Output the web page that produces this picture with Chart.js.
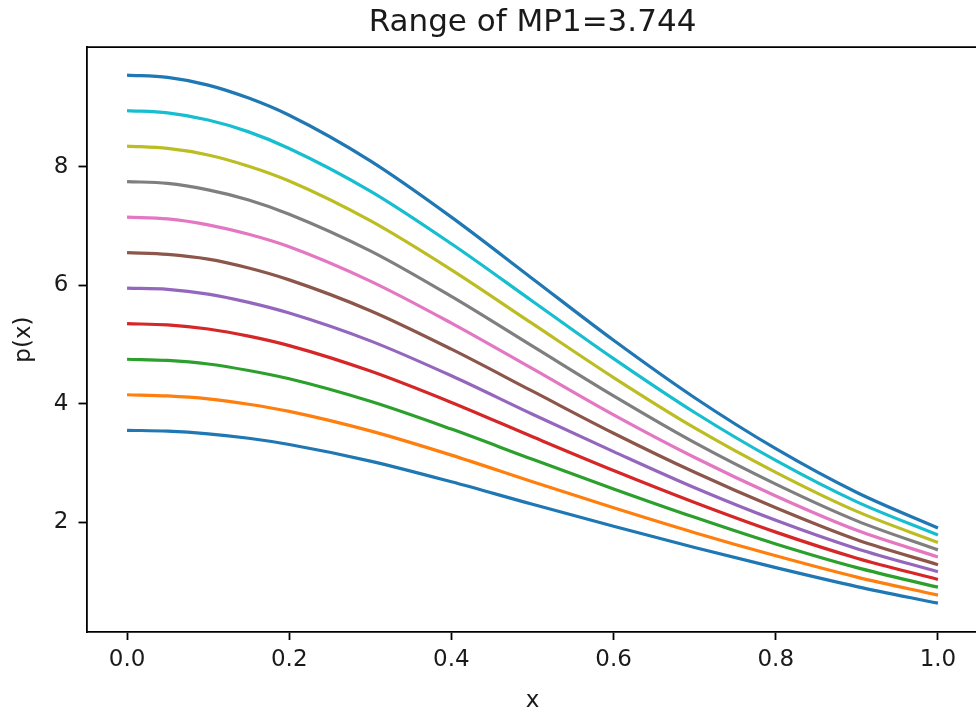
<!DOCTYPE html>
<html>
<head>
<meta charset="utf-8">
<script src="https://cdn.jsdelivr.net/npm/chart.js@4.4.1/dist/chart.umd.min.js"></script>
<style>
  html, body { margin: 0; padding: 0; background: #fff; overflow: hidden; }
  #wrap { width: 980px; height: 721px; }
</style>
</head>
<body>
<div id="wrap"><canvas id="c" width="980" height="721"></canvas></div>
<script>
// ---- data ----
const xValues = [0.0, 0.05, 0.1, 0.15, 0.2, 0.3, 0.4, 0.5, 0.6, 0.7, 0.8, 0.9, 1.0];
const xTicks = [0.0, 0.2, 0.4, 0.6, 0.8, 1.0];
const yTicks = [2, 4, 6, 8];

const curve0  = [3.55, 3.535, 3.49, 3.415, 3.31, 3.03, 2.68, 2.30, 1.93, 1.57, 1.23, 0.91, 0.63];
const curve1  = [4.15, 4.13, 4.08, 3.99, 3.87, 3.54, 3.13, 2.68, 2.24, 1.82, 1.43, 1.07, 0.765];
const curve2  = [4.75, 4.73, 4.67, 4.56, 4.42, 4.04, 3.57, 3.06, 2.56, 2.08, 1.63, 1.23, 0.90];
const curve3  = [5.35, 5.33, 5.26, 5.14, 4.98, 4.55, 4.02, 3.44, 2.87, 2.33, 1.83, 1.39, 1.03];
const curve4  = [5.95, 5.93, 5.85, 5.71, 5.53, 5.06, 4.47, 3.82, 3.19, 2.58, 2.03, 1.55, 1.16];
const curve5  = [6.55, 6.52, 6.44, 6.29, 6.09, 5.57, 4.92, 4.21, 3.50, 2.84, 2.24, 1.70, 1.28];
const curve6  = [7.15, 7.12, 7.02, 6.86, 6.65, 6.07, 5.36, 4.59, 3.81, 3.09, 2.44, 1.86, 1.41];
const curve7  = [7.75, 7.72, 7.61, 7.44, 7.20, 6.58, 5.81, 4.97, 4.13, 3.34, 2.64, 2.02, 1.53];
const curve8  = [8.35, 8.31, 8.20, 8.01, 7.76, 7.09, 6.26, 5.35, 4.44, 3.59, 2.84, 2.18, 1.655];
const curve9  = [8.95, 8.91, 8.79, 8.59, 8.31, 7.59, 6.70, 5.73, 4.76, 3.85, 3.04, 2.34, 1.78];
const curve10 = [9.55, 9.51, 9.38, 9.16, 8.87, 8.10, 7.15, 6.11, 5.07, 4.10, 3.24, 2.50, 1.90];

const seriesList = [curve0, curve1, curve2, curve3, curve4, curve5, curve6, curve7, curve8, curve9, curve10];
const colors = ['#1f77b4', '#ff7f0e', '#2ca02c', '#d62728', '#9467bd', '#8c564b',
                '#e377c2', '#7f7f7f', '#bcbd22', '#17becf', '#1f77b4'];

const FONT = "'DejaVu Sans', 'Liberation Sans', sans-serif";

const datasets = seriesList.map((s, k) => ({
  label: 'p' + k,
  data: xValues.map((x, i) => ({ x: x, y: s[i] })),
  borderColor: colors[k],
  backgroundColor: colors[k],
  borderWidth: 3.2,
  pointRadius: 0,
  fill: false,
  cubicInterpolationMode: 'monotone'
}));

const frame = {
  id: 'frame',
  afterDraw(chart) {
    const { ctx, chartArea: a } = chart;
    ctx.save();
    ctx.strokeStyle = '#000';
    ctx.lineWidth = 1.8;
    ctx.beginPath();
    ctx.moveTo(a.left, a.top);
    ctx.lineTo(a.right, a.top);
    ctx.lineTo(a.right, a.bottom);
    ctx.stroke();
    ctx.restore();
  }
};

new Chart(document.getElementById('c'), {
  type: 'line',
  data: { datasets },
  plugins: [frame],
  options: {
    responsive: false,
    devicePixelRatio: 1,
    animation: false,
    layout: { padding: { left: 0, right: 1.5, top: 0, bottom: 0 } },
    plugins: {
      legend: { display: false },
      tooltip: { enabled: false },
      title: {
        display: true,
        text: 'Range of MP1=3.744',
        fullSize: false,
        color: '#1a1a1a',
        font: { family: FONT, size: 31, weight: 'normal' },
        padding: { top: 4, bottom: 6 }
      }
    },
    scales: {
      x: {
        type: 'linear',
        min: -0.05,
        max: 1.05,
        afterBuildTicks: s => { s.ticks = xTicks.map(v => ({ value: v })); },
        afterFit: s => { s.height = 89; },
        ticks: {
          color: '#1a1a1a',
          font: { family: FONT, size: 23 },
          padding: 6,
          maxRotation: 0,
          callback: v => Number(v).toFixed(1)
        },
        grid: { display: true, drawOnChartArea: false, drawTicks: true, tickLength: 8, tickWidth: 1.8, tickColor: '#000' },
        border: { display: true, color: '#000', width: 1.8 },
        title: {
          display: true, text: 'x', color: '#1a1a1a',
          font: { family: FONT, size: 23 },
          padding: { top: 0, bottom: 6 }
        }
      },
      y: {
        type: 'linear',
        min: 0.143,
        max: 10.02,
        afterBuildTicks: s => { s.ticks = yTicks.map(v => ({ value: v })); },
        afterFit: s => { s.width = 86.5; },
        ticks: {
          color: '#1a1a1a',
          font: { family: FONT, size: 23 },
          padding: 10,
          callback: v => String(v)
        },
        grid: { display: true, drawOnChartArea: false, drawTicks: true, tickLength: 8, tickWidth: 1.8, tickColor: '#000' },
        border: { display: true, color: '#000', width: 1.8 },
        title: {
          display: true, text: 'p(x)', color: '#1a1a1a',
          font: { family: FONT, size: 23 },
          padding: { top: 10, bottom: 0 }
        }
      }
    }
  }
});
</script>
</body>
</html>
